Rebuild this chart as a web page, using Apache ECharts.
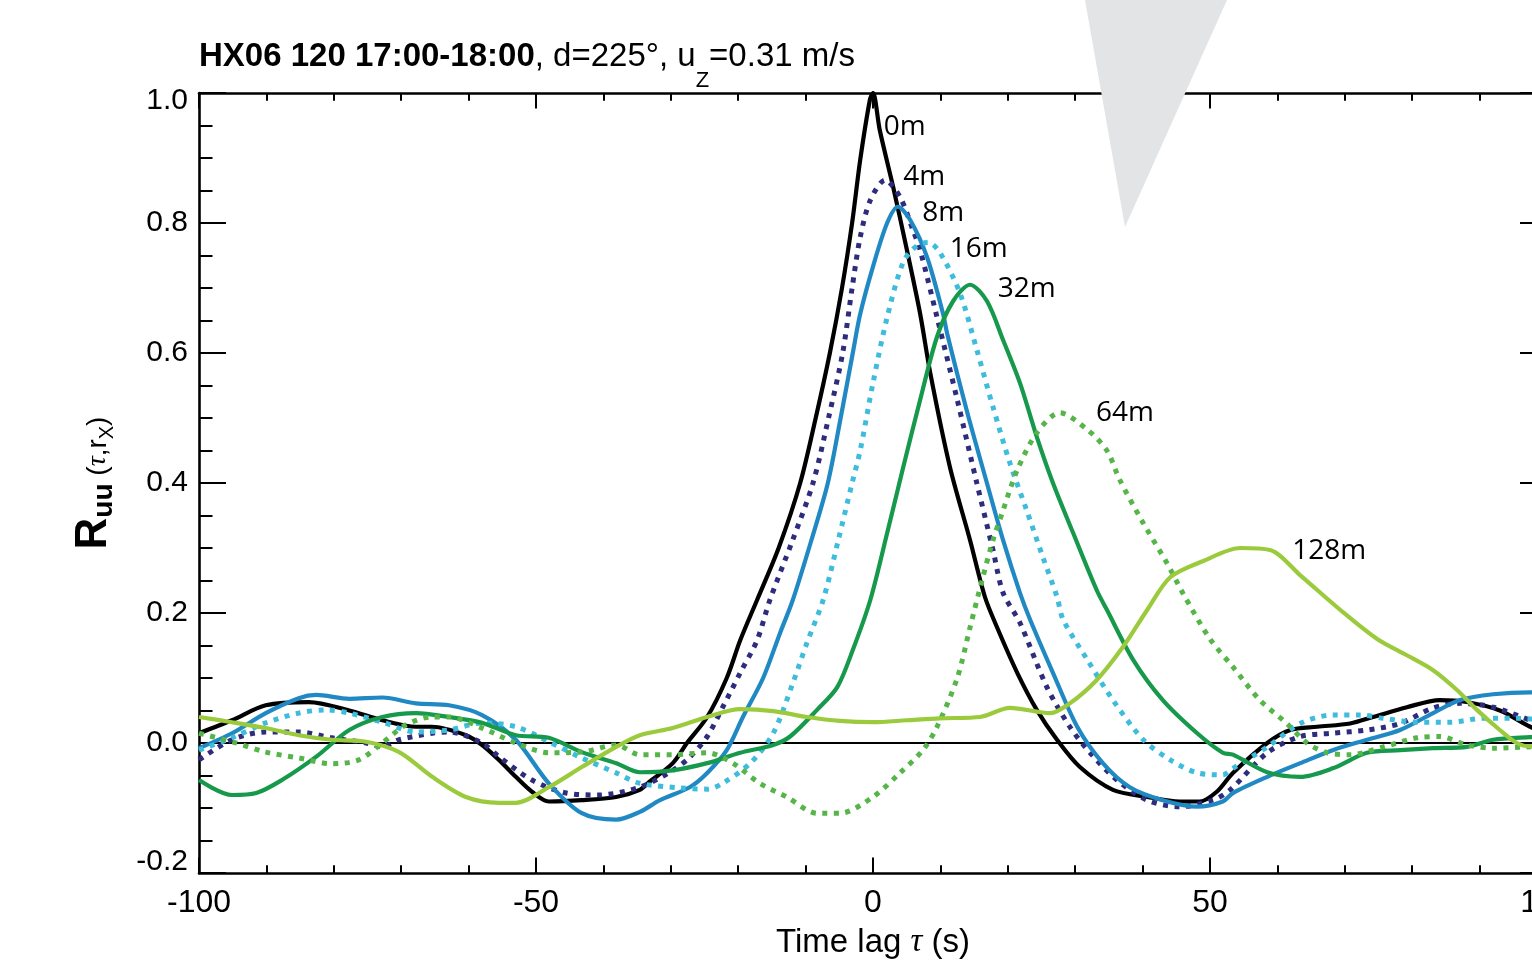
<!DOCTYPE html>
<html>
<head>
<meta charset="utf-8">
<script src="https://cdn.jsdelivr.net/npm/echarts@6/dist/echarts.min.js"></script>
<style>
html,body{margin:0;padding:0;background:#fff;}
#chart{width:1532px;height:961px;}
</style>
</head>
<body>
<div id="chart"></div>
<script>
// ---- data: [time lag (s), R_uu] ----
const r0m = [[-100,0.015],[-95.1,0.035],[-90.1,0.058],[-83.7,0.063],[-77.7,0.05],[-72.8,0.035],[-67.8,0.025],[-65.4,0.025],[-60.4,0.012],[-58,-0.003],[-55.5,-0.026],[-53,-0.052],[-50.6,-0.075],[-48.1,-0.09],[-43.2,-0.088],[-38.1,-0.083],[-34.6,-0.072],[-33.2,-0.06],[-29.7,-0.031],[-27.6,0],[-24.6,0.04],[-21.7,0.10],[-19.7,0.158],[-17.2,0.22],[-14,0.3],[-10.8,0.40],[-8.5,0.5],[-6.4,0.60],[-4.6,0.7],[-3.1,0.80],[-1.9,0.897],[-0.45,0.99],[0,1.0],[1.0,0.943],[3.0,0.855],[5.0,0.76],[7.0,0.66],[8.5,0.569],[11.4,0.425],[14.4,0.312],[16.6,0.225],[18.4,0.178],[21.4,0.108],[24.3,0.051],[27.3,0.005],[30.7,-0.037],[35.6,-0.072],[40.7,-0.083],[45.5,-0.09],[48.5,-0.09],[51,-0.075],[53.4,-0.046],[58.5,0],[61.9,0.02],[65.9,0.025],[70.8,0.03],[74.2,0.04],[79.2,0.055],[84.1,0.066],[88.1,0.063],[93,0.05],[97.5,0.025],[100,0.015]];
const r4m = [[-100,-0.026],[-95.1,0.005],[-90.1,0.017],[-85.2,0.017],[-80.3,0.008],[-75.2,0],[-72.8,-0.006],[-70.3,0.005],[-65.4,0.015],[-62.9,0.017],[-58,0],[-55.5,-0.021],[-50.6,-0.057],[-45.5,-0.077],[-40.7,-0.08],[-34.6,-0.068],[-29.7,-0.042],[-27.2,-0.022],[-24.6,0.01],[-22.3,0.055],[-19.7,0.108],[-17.2,0.158],[-15.3,0.22],[-12,0.31],[-8.9,0.40],[-6.6,0.5],[-4.5,0.60],[-3.1,0.7],[-1.9,0.778],[-0.4,0.835],[1.8,0.866],[4.0,0.84],[5.9,0.79],[7.0,0.758],[9.5,0.655],[12.5,0.528],[15.4,0.40],[17.8,0.297],[19.3,0.231],[21.8,0.185],[25.8,0.086],[29.2,0.025],[32.2,-0.015],[36.2,-0.057],[40.7,-0.088],[45.5,-0.098],[50.4,-0.088],[53.0,-0.072],[58.5,-0.015],[63.4,0.01],[68.2,0.015],[73.3,0.02],[78.2,0.03],[83.1,0.054],[87.1,0.061],[92.0,0.055],[97.5,0.035],[100,0.025]];
const r8m = [[-100,-0.008],[-95.1,0.015],[-90.1,0.046],[-85.2,0.069],[-82.6,0.074],[-77.7,0.068],[-72.8,0.07],[-67.8,0.061],[-62.9,0.058],[-58,0.043],[-53,0.005],[-48.1,-0.062],[-43.2,-0.108],[-38.1,-0.118],[-34.6,-0.106],[-31.6,-0.088],[-27.2,-0.068],[-24.6,-0.046],[-21.7,-0.011],[-19.3,0.04],[-16.3,0.10],[-13.8,0.169],[-11.9,0.22],[-9.2,0.31],[-6.7,0.40],[-4.8,0.5],[-3.0,0.60],[-1.9,0.66],[0,0.733],[2.1,0.80],[3.7,0.825],[5.5,0.805],[8.0,0.748],[10.4,0.66],[11.0,0.63],[13.9,0.512],[16.9,0.40],[19.3,0.312],[21.8,0.231],[23.3,0.19],[26.7,0.108],[30.3,0.025],[34.1,-0.031],[38.1,-0.068],[43.0,-0.088],[48.1,-0.098],[51.9,-0.09],[53.4,-0.077],[58.5,-0.052],[63.4,-0.031],[68.2,-0.011],[73.3,0.005],[78.2,0.02],[83.1,0.046],[87.1,0.066],[92.0,0.075],[97.5,0.078],[100,0.077]];
const r16m = [[-100,-0.011],[-95.1,0.008],[-90.1,0.031],[-85.2,0.046],[-81.2,0.051],[-77.7,0.046],[-72.8,0.032],[-67.8,0.017],[-62.9,0.02],[-58,0.031],[-53,0.025],[-48.1,0.002],[-43.2,-0.023],[-38.1,-0.046],[-34.6,-0.062],[-28.6,-0.069],[-24.6,-0.071],[-22.3,-0.062],[-18.2,-0.031],[-14.8,0.015],[-11.9,0.092],[-9.8,0.154],[-7.4,0.22],[-5.2,0.31],[-3.1,0.40],[-1.9,0.45],[0,0.554],[2.1,0.655],[4.5,0.74],[6.5,0.765],[8.2,0.77],[9.9,0.755],[12.9,0.692],[15.4,0.605],[17.8,0.517],[20.3,0.431],[22.8,0.358],[25.2,0.286],[27.3,0.225],[28.2,0.19],[31.8,0.128],[35.6,0.066],[40.1,0.005],[44.1,-0.026],[48.1,-0.046],[51.9,-0.049],[53.4,-0.039],[58.5,-0.006],[63.4,0.03],[68.2,0.043],[72.3,0.043],[75.7,0.038],[80.7,0.032],[85.6,0.032],[90.5,0.038],[95.5,0.038],[100,0.035]];
const r32m = [[-100,-0.057],[-95.1,-0.08],[-91.5,-0.077],[-87.7,-0.057],[-82.6,-0.021],[-77.7,0.02],[-72.8,0.04],[-67.8,0.046],[-62.9,0.04],[-58,0.031],[-53,0.012],[-48.1,0.008],[-43.2,-0.014],[-38.1,-0.031],[-34.6,-0.045],[-29.7,-0.042],[-24.6,-0.031],[-19.7,-0.015],[-14.8,-0.003],[-12.3,0.01],[-8.3,0.051],[-5.3,0.086],[-3.0,0.143],[-0.4,0.22],[2.1,0.323],[4.5,0.425],[7.0,0.528],[9.5,0.625],[11.9,0.68],[14.4,0.705],[16.9,0.68],[19.3,0.62],[21.8,0.554],[24.3,0.471],[26.7,0.40],[29.7,0.323],[33.2,0.235],[34.7,0.205],[38.6,0.128],[43.0,0.066],[48.1,0.015],[51.9,-0.015],[53.4,-0.018],[58.5,-0.045],[63.4,-0.052],[68.2,-0.039],[73.3,-0.015],[78.2,-0.011],[83.1,-0.008],[88.1,-0.006],[92.0,0.005],[97.5,0.009],[100,0.01]];
const r64m = [[-100,0.015],[-95.1,0.002],[-90.1,-0.014],[-85.2,-0.023],[-80.3,-0.032],[-76.3,-0.026],[-72.8,0],[-69.3,0.028],[-65.4,0.04],[-62.9,0.04],[-58,0.023],[-53,0],[-48.1,-0.015],[-43.2,-0.014],[-38.1,-0.003],[-34.6,-0.018],[-29.7,-0.018],[-24.6,-0.015],[-20.8,-0.031],[-16.8,-0.062],[-12.8,-0.083],[-8.3,-0.108],[-4.9,-0.108],[0,-0.083],[4.0,-0.046],[7.4,-0.011],[9.5,0.025],[12.5,0.10],[14.4,0.178],[16.3,0.255],[17.8,0.312],[19.3,0.358],[21.4,0.42],[24.3,0.477],[27.7,0.508],[31.8,0.482],[34.7,0.45],[36.6,0.405],[40.0,0.34],[43.6,0.277],[46.0,0.23],[50.0,0.16],[53.4,0.117],[57.4,0.066],[61.4,0.03],[64.4,0],[67.4,-0.015],[70.8,-0.018],[75.7,-0.006],[80.7,0.008],[84.1,0.01],[88.1,-0.003],[92.0,-0.008],[97.0,-0.006],[100,-0.005]];
const r128m = [[-100,0.04],[-95.1,0.032],[-90.1,0.023],[-85.2,0.012],[-80.3,0.005],[-75.2,0.002],[-70.3,-0.014],[-65.4,-0.052],[-60.4,-0.083],[-55.5,-0.092],[-53,-0.092],[-48.1,-0.068],[-43.2,-0.037],[-38.1,-0.006],[-34.6,0.012],[-29.7,0.023],[-24.6,0.04],[-19.7,0.052],[-14.8,0.049],[-9.8,0.04],[-4.9,0.034],[0,0.032],[5.0,0.035],[9.9,0.038],[15.9,0.04],[20.3,0.054],[26.3,0.046],[29.2,0.061],[33.2,0.097],[37.1,0.148],[40.7,0.205],[44.1,0.255],[49.0,0.28],[54.5,0.30],[58.9,0.297],[63.4,0.258],[69.3,0.205],[74.8,0.16],[79.2,0.135],[83.1,0.112],[86.6,0.082],[89.6,0.051],[93.0,0.02],[95.5,0],[97.5,-0.005],[100,-0.005]];

const seriesNames = ['0m','4m','8m','16m','32m','64m','128m'];
const labelLag = [1.6, 4.5, 7.3, 11.4, 18.5, 33.1, 62.2];
const labelR = [0.948, 0.871, 0.815, 0.76, 0.698, 0.508, 0.295];

const xTicks = [-100, -50, 0, 50, 100];
const yTicks = [-0.2, 0.0, 0.2, 0.4, 0.6, 0.8, 1.0];

const seriesData = [r0m, r4m, r8m, r16m, r32m, r64m, r128m];
const colors = ['#000000', '#2e2c7c', '#2089c4', '#3dbcdc', '#16994b', '#56b548', '#9bcb3c'];
const dotted = [false, true, false, true, false, true, false];

const chart = echarts.init(document.getElementById('chart'), null, {renderer: 'canvas'});

const lineSeries = seriesData.map((d, i) => ({
  type: 'line',
  name: seriesNames[i],
  data: d,
  xAxisIndex: 0, yAxisIndex: 0,
  showSymbol: false,
  symbol: 'none',
  smooth: 0.3,
  z: 3 + i,
  lineStyle: {
    color: colors[i],
    width: dotted[i] ? 5 : 4.2,
    type: dotted[i] ? [5, 6.5] : 'solid',
    cap: 'butt',
    join: 'round'
  },
  animation: false
}));

lineSeries[0].markLine = {
  silent: true,
  symbol: 'none',
  label: {show: false},
  lineStyle: {color: '#000', width: 2, type: 'solid'},
  data: [{yAxis: 0}],
  animation: false,
  z: 1
};

const labelSeries = {
  type: 'scatter',
  data: seriesNames.map((n, i) => [labelLag[i], labelR[i], n]),
  symbolSize: 0,
  z: 20,
  itemStyle: {opacity: 1},
  label: {
    show: true,
    position: 'right',
    distance: 0,
    formatter: p => p.data[2],
    fontFamily: 'Open Sans',
    fontSize: 28,
    color: '#000',
    opacity: 1
  },
  emphasis: {disabled: true},
  animation: false
};

const axisFont = 'Liberation Sans';

const xCommon = {
  type: 'value', min: -100, max: 100, interval: 50,
  axisLine: {show: true, onZero: false, lineStyle: {color: '#000', width: 2.6}},
  axisTick: {show: true, inside: true, length: 15.6, lineStyle: {color: '#000', width: 2}},
  minorTick: {show: true, splitNumber: 5, length: 7.8, lineStyle: {color: '#000', width: 2}},
  splitLine: {show: false}
};
const yCommon = {
  type: 'value', min: -0.2, max: 1.0, interval: 0.2,
  axisLine: {show: true, onZero: false, lineStyle: {color: '#000', width: 2.6}},
  axisTick: {show: true, inside: true, length: 27, lineStyle: {color: '#000', width: 2}},
  minorTick: {show: true, splitNumber: 4, length: 13.5, lineStyle: {color: '#000', width: 2}},
  splitLine: {show: false}
};

const option = {
  backgroundColor: '#ffffff',
  animation: false,
  title: {
    left: 199,
    top: 22,
    padding: 0,
    text: '{b|HX06 120 17:00-18:00}{n|, d=225°, u}{s|Z}{n|=0.31 m/s}',
    textStyle: {
      fontWeight: 'normal',
      rich: {
        b: {fontFamily: axisFont, fontSize: 33, fontWeight: 'bold', color: '#000'},
        n: {fontFamily: axisFont, fontSize: 33, fontWeight: 'normal', color: '#000'},
        s: {fontFamily: axisFont, fontSize: 22, fontWeight: 'normal', color: '#000', padding: [48, 0, 0, 0]}
      }
    }
  },
  grid: {left: 199, top: 93, width: 1348, height: 780, containLabel: false, outerBoundsMode: 'none'},
  xAxis: [
    Object.assign({}, xCommon, {
      position: 'bottom',
      axisLabel: {
        show: true, margin: 14,
        fontFamily: axisFont, fontSize: 32, color: '#000',
        formatter: v => String(v)
      },
      name: '{n|Time lag }{t|τ}{n| (s)}',
      nameLocation: 'middle',
      nameGap: 53,
      nameTextStyle: {
        rich: {
          n: {fontFamily: axisFont, fontSize: 33, color: '#000'},
          t: {fontFamily: 'Liberation Serif', fontStyle: 'italic', fontSize: 33, color: '#000'}
        }
      }
    }),
    Object.assign({}, xCommon, {position: 'top', axisLabel: {show: false}})
  ],
  yAxis: [
    Object.assign({}, yCommon, {
      position: 'left',
      axisLabel: {
        show: true, margin: 11,
        fontFamily: axisFont, fontSize: 30, color: '#000',
        formatter: v => {
          const s = (Math.abs(v) < 1e-9 ? 0 : v).toFixed(1);
          if (Math.abs(v - 1) < 1e-9) return '{t|' + s + '}';
          if (Math.abs(v + 0.2) < 1e-9) return '{b|' + s + '}';
          return s;
        },
        rich: {
          t: {fontFamily: axisFont, fontSize: 30, color: '#000', padding: [16, 0, 0, 0]},
          b: {fontFamily: axisFont, fontSize: 30, color: '#000', padding: [0, 0, 22, 0]}
        }
      },
      name: '{R|R}{u|uu}{n| (}{t|τ}{n|,r}{x|X}{n|)}',
      nameLocation: 'middle',
      nameRotate: 90,
      nameGap: 81,
      nameTextStyle: {
        rich: {
          R: {fontFamily: axisFont, fontSize: 44, fontWeight: 'bold', color: '#000'},
          u: {fontFamily: axisFont, fontSize: 28, fontWeight: 'bold', color: '#000', padding: [20, 0, 0, 0]},
          n: {fontFamily: axisFont, fontSize: 28, color: '#000', padding: [8, 0, 0, 0]},
          t: {fontFamily: 'Liberation Serif', fontStyle: 'italic', fontSize: 28, color: '#000', padding: [8, 0, 0, 0]},
          x: {fontFamily: axisFont, fontSize: 20, color: '#000', padding: [26, 0, 0, 0]}
        }
      }
    }),
    Object.assign({}, yCommon, {position: 'right', axisLabel: {show: false}})
  ],
  graphic: [{
    type: 'polygon',
    z: 100,
    silent: true,
    shape: {points: [[1085, 0], [1227, 0], [1125, 227]]},
    style: {fill: '#e3e4e6'}
  }],
  series: lineSeries.concat([labelSeries])
};

chart.setOption(option);
</script>
</body>
</html>
